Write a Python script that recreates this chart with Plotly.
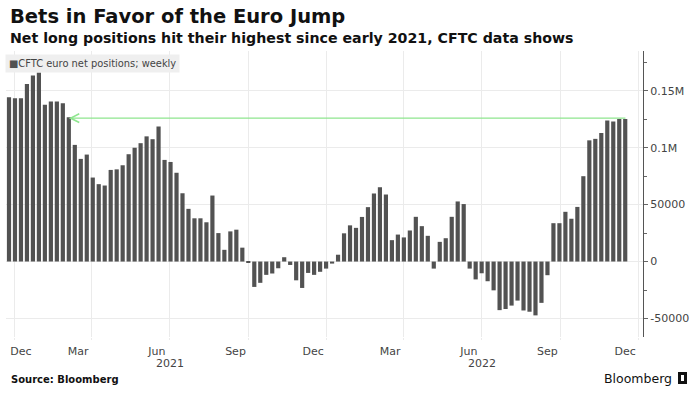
import plotly.graph_objects as go
import pandas as pd

# ---- data ----
series_name = "CFTC euro net positions; weekly"
start_date = "2020-12-25"   # weekly (Friday release dates)
net_positions = [
    144400, 143500, 143500, 156000, 163500, 166000, 137700, 140600, 140600, 139000,
    126800, 102500, 90200, 94000, 73800, 68000, 66800, 80500, 81000, 84600,
    94300, 100000, 104000, 110000, 107500, 118600, 89300, 87500, 78000, 60000,
    46300, 38000, 38000, 34500, 58000, 25000, 10300, 26500, 28000, 12200,
    -800, -22300, -18700, -11700, -10500, -5900, 3800, -3000, -16500, -23200,
    -10000, -11700, -9000, -6200, -1800, 6000, 24800, 31800, 29600, 39200,
    47800, 59800, 65300, 58900, 18800, 23700, 21200, 27300, 39300, 31100,
    22600, -6200, 17300, 20500, 39300, 52800, 50500, -6200, -15700, -10300,
    -17300, -25300, -42700, -41700, -38700, -34300, -43000, -44100, -47300, -36300,
    -12000, 33700, 33700, 43700, 37600, 48000, 75000, 106500, 107800, 113000,
    124000, 123000, 125300, 125300,
]
dates = pd.date_range(start_date, periods=len(net_positions), freq="7D")

x_tick_vals = ["2021-01-08", "2021-03-16", "2021-06-16", "2021-09-16", "2021-12-16",
               "2022-03-16", "2022-06-16", "2022-09-16", "2022-12-16"]
x_tick_text = ["Dec", "Mar", "Jun", "Sep", "Dec", "Mar", "Jun", "Sep", "Dec"]
year_labels = ["2021", "2022"]
year_label_dates = ["2021-07-01", "2022-07-01"]
y_tick_vals = [-50000, 0, 50000, 100000, 150000]
y_tick_text = ["-50000", "0", "50000", "0.1M", "0.15M"]
highlight_level = 126000
highlight_from_index = 10   # bar where the arrow points (early 2021)

# ---- layout helpers (pixel -> paper) ----
W, H = 694, 396
L, R, T, B = 6, 51, 51, 59
PW, PH = W - L - R, H - T - B
def px_x(p):
    return (p - L) / PW
def px_y(p):
    return (H - B - p) / PH

FONT = "DejaVu Sans"
GRID = "#ebebeb"
BAR = "#525252"

fig = go.Figure()
fig.add_bar(x=dates, y=net_positions, marker_color=BAR, marker_line_width=0,
            name=series_name, showlegend=False)

annotations = [
    dict(text="<b>Bets in Favor of the Euro Jump</b>", x=px_x(8), y=px_y(17),
         xanchor="left", yanchor="middle", font=dict(size=19.5, color="#111")),
    dict(text="<b>Net long positions hit their highest since early 2021, CFTC data shows</b>",
         x=px_x(8), y=px_y(38), xanchor="left", yanchor="middle",
         font=dict(size=14.2, color="#111")),
    dict(text=f'<span style="color:{BAR}">■</span>{series_name}', x=px_x(5), y=px_y(54),
         xanchor="left", yanchor="top", font=dict(size=9.9, color="#444"),
         bgcolor="#efefef", borderpad=3),
    dict(text="<b>Source: Bloomberg</b>", x=px_x(9), y=px_y(379), xanchor="left",
         yanchor="middle", font=dict(size=10, color="#111")),
    dict(text="Bloomberg", x=px_x(674), y=px_y(378), xanchor="right",
         yanchor="middle", font=dict(size=12.5, color="#111")),
]
for lab, d in zip(year_labels, year_label_dates):
    annotations.append(dict(text=lab, x=d, xref="x", y=px_y(363), yref="paper",
                            xanchor="center", yanchor="middle", showarrow=False,
                            font=dict(size=11, color="#444")))
for a in annotations:
    a.setdefault("xref", "paper")
    a.setdefault("yref", "paper")
    a.setdefault("showarrow", False)

# green reference line with arrow pointing back to early 2021
annotations.append(dict(
    x=dates[highlight_from_index], y=highlight_level, xref="x", yref="y",
    ax=dates[-1] + pd.Timedelta(days=2), ay=highlight_level, axref="x", ayref="y",
    text="", showarrow=True, arrowhead=5, arrowsize=1.4, arrowwidth=1.2,
    arrowcolor="#8fe68f"))

fig.update_layout(
    width=W, height=H, autosize=False,
    margin=dict(l=L, r=R, t=T, b=B),
    paper_bgcolor="white", plot_bgcolor="white",
    bargap=0.3,
    font=dict(family=FONT, size=11, color="#444"),
    annotations=annotations,
    shapes=[
        dict(type="rect", xref="paper", yref="paper",
             x0=px_x(678), x1=px_x(687), y0=px_y(384), y1=px_y(372),
             fillcolor="#111", line=dict(width=0)),
        dict(type="rect", xref="paper", yref="paper",
             x0=px_x(681), x1=px_x(684), y0=px_y(381), y1=px_y(375),
             fillcolor="white", line=dict(width=0)),
    ],
)
fig.update_xaxes(
    type="date", range=["2020-12-21 12:00", "2023-01-05 19:00"],
    tickmode="array", tickvals=x_tick_vals, ticktext=x_tick_text,
    showgrid=False, ticks="outside", ticklen=4, tickcolor="rgba(0,0,0,0)",
    tickfont=dict(size=11, color="#444"), showline=False, zeroline=False,
    minor=dict(dtick="M3", tick0="2021-01-01", showgrid=True, gridcolor=GRID,
               ticks="outside", ticklen=2, tickcolor=GRID),
)
fig.update_yaxes(
    side="right", range=[-66300, 185000],
    tickmode="array", tickvals=y_tick_vals, ticktext=y_tick_text,
    showgrid=True, gridcolor=GRID, zeroline=False,
    ticks="outside", ticklen=4, tickcolor="#666",
    showline=True, linecolor="#555", linewidth=1,
    tickfont=dict(size=11, color="#444"),
    minor=dict(dtick=25000, tick0=0, ticks="outside", ticklen=3, tickcolor="#666",
               showgrid=False),
)

fig.write_html("out.html", config={"displayModeBar": False},
               post_script="document.body.style.margin='0';document.body.style.overflow='hidden';")
